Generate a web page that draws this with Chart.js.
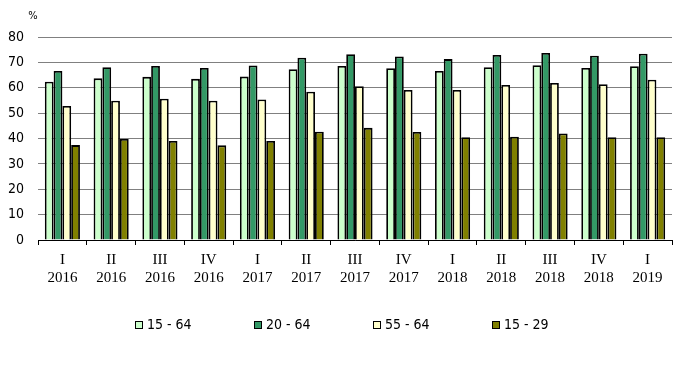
<!DOCTYPE html>
<html>
<head>
<meta charset="utf-8">
<script src="https://cdn.jsdelivr.net/npm/chart.js@4"></script>
<style>
  html, body { margin: 0; padding: 0; background: #fff; }
  #wrap { width: 690px; height: 371px; }
</style>
</head>
<body>
<div id="wrap"><canvas id="chart"></canvas></div>
<script>
const quarters = [['I', '2016'], ['II', '2016'], ['III', '2016'], ['IV', '2016'],
	['I', '2017'], ['II', '2017'], ['III', '2017'], ['IV', '2017'],
	['I', '2018'], ['II', '2018'], ['III', '2018'], ['IV', '2018'], ['I', '2019']];
const age15to64 = [62.4, 63.7, 64.3, 63.5, 64.4, 67.3, 68.6, 67.7, 66.6, 68.1, 68.9, 67.8, 68.5];
const age20to64 = [66.6, 68.1, 68.6, 67.8, 68.8, 71.8, 73.2, 72.3, 71.3, 72.9, 73.7, 72.6, 73.4];
const age55to64 = [52.8, 54.9, 55.7, 54.9, 55.4, 58.4, 60.6, 59.1, 59.1, 61.1, 61.9, 61.4, 63.2];
const age15to29 = [37.4, 39.8, 39.0, 37.3, 39.0, 42.7, 44.2, 42.6, 40.5, 40.7, 42.0, 40.5, 40.5];
const yTicks = [0, 10, 20, 30, 40, 50, 60, 70, 80];

const sansFont = '"DejaVu Sans Condensed", "DejaVu Sans", sans-serif';
const serifFont = '"Liberation Serif", "DejaVu Serif", serif';

// "%" above the y axis and the legend row at the bottom
const extras = {
	id: 'extras',
	afterDraw(chart) {
		let ctx = chart.ctx;
		let area = chart.chartArea;
		ctx.save();
		ctx.fillStyle = '#000';
		ctx.font = '11px ' + sansFont;
		ctx.textBaseline = 'middle';
		ctx.textAlign = 'center';
		ctx.fillText('%', area.left - 5, 16);

		ctx.font = '14px ' + sansFont;
		ctx.textAlign = 'left';
		let x = 135, y = 325, step = 119;
		chart.data.datasets.forEach((ds, i) => {
			let bx = x + i * step;
			ctx.fillStyle = ds.backgroundColor;
			ctx.fillRect(bx, y - 4, 8, 8);
			ctx.strokeStyle = '#000';
			ctx.lineWidth = 1;
			ctx.strokeRect(bx + 0.5, y - 4 + 0.5, 7, 7);
			ctx.fillStyle = '#000';
			ctx.fillText(ds.label, bx + 12, y);
		});
		ctx.restore();
	},
};

let ctx = document.getElementById('chart').getContext('2d');
let data = {
	labels: quarters,
	datasets: [
		{ label: '15 - 64', data: age15to64, backgroundColor: '#ccffcc' },
		{ label: '20 - 64', data: age20to64, backgroundColor: '#339966' },
		{ label: '55 - 64', data: age55to64, backgroundColor: '#ffffcc' },
		{ label: '15 - 29', data: age15to29, backgroundColor: '#808000' },
	].map(ds => Object.assign(ds, {
		borderColor: '#000',
		borderWidth: 1.8,
		barPercentage: 1,
		categoryPercentage: 0.72,
	})),
};
let chart = new Chart(ctx, {
	type: 'bar',
	data,
	plugins: [extras],
	options: {
		responsive: true,
		maintainAspectRatio: false,
		animation: false,
		layout: { padding: { left: 0, right: 18, top: 37, bottom: 78 } },
		plugins: {
			legend: { display: false },
			tooltip: { enabled: false },
		},
		scales: {
			x: {
				grid: { drawOnChartArea: false, drawTicks: true, tickLength: 5, color: '#000' },
				border: { color: '#000', width: 1 },
				ticks: {
					color: '#000',
					font: { family: serifFont, size: 15, lineHeight: 1.2 },
					padding: 6,
					maxRotation: 0,
					autoSkip: false,
				},
			},
			y: {
				min: 0,
				max: 80,
				afterBuildTicks: axis => { axis.ticks = yTicks.map(v => ({ value: v })); },
				afterFit: axis => { axis.width = 38; },
				grid: { color: '#808080', lineWidth: 1, drawTicks: false },
				border: { display: false },
				ticks: {
					color: '#000',
					font: { family: sansFont, size: 14 },
					padding: 14,
				},
			},
		},
	},
});
</script>
</body>
</html>
